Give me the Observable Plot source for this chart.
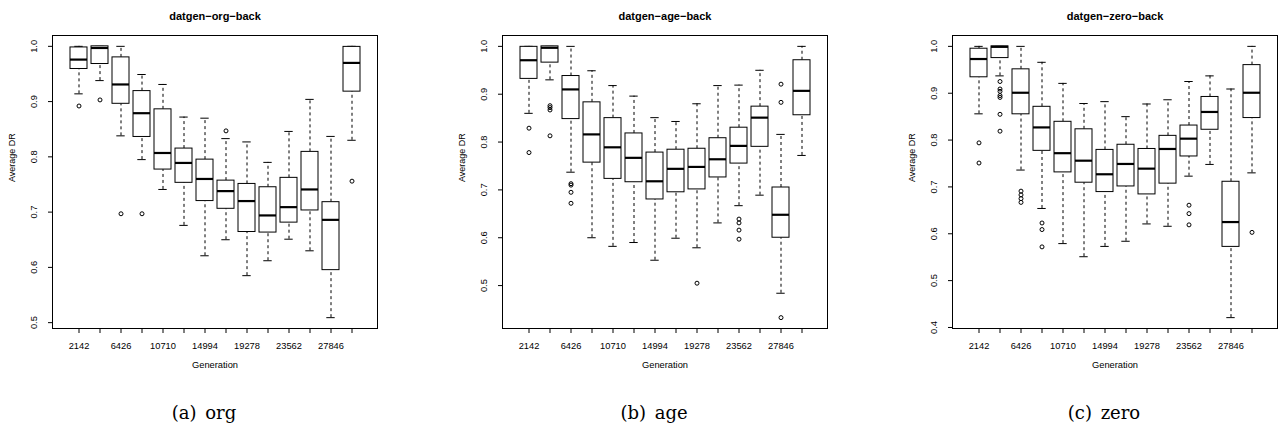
<!DOCTYPE html>
<html><head><meta charset="utf-8">
<script src="https://cdn.jsdelivr.net/npm/d3@7"></script>
<script src="https://cdn.jsdelivr.net/npm/@observablehq/plot@0.6"></script>
<style>
body{margin:0;background:#fff;width:1278px;height:428px;overflow:hidden;position:relative;font-family:"Liberation Sans",Arial,sans-serif;}
.panel{position:absolute;top:0;}
.cap{position:absolute;top:404px;width:200px;text-align:center;font-family:"DejaVu Serif",serif;font-size:18px;line-height:18px;word-spacing:3px;color:#000;white-space:nowrap;}
</style></head><body>
<script>
// Generations (box categories) and the tick labels R kept
const generations = [2142,4284,6426,8568,10710,12852,14994,17136,19278,21420,23562,25704,27846,29988];
const tickLabels = ["2142","","6426","","10710","","14994","","19278","","23562","","27846",""];

// (a) org
const orgLow  = [0.914,0.938,0.838,0.795,0.741,0.676,0.621,0.650,0.585,0.612,0.651,0.630,0.509,0.830];
const orgQ1   = [0.959,0.968,0.896,0.836,0.777,0.753,0.720,0.706,0.664,0.663,0.681,0.703,0.595,0.918];
const orgMed  = [0.976,0.997,0.931,0.879,0.807,0.789,0.760,0.738,0.720,0.694,0.709,0.741,0.686,0.970];
const orgQ3   = [0.998,1.000,0.980,0.919,0.886,0.815,0.795,0.757,0.751,0.745,0.762,0.809,0.718,0.999];
const orgHigh = [1.000,1.000,1.000,0.949,0.931,0.872,0.870,0.833,0.827,0.790,0.846,0.904,0.837,1.000];
const orgOutGen = [2142,4284,6426,8568,17136,29988];
const orgOutVal = [0.892,0.903,0.697,0.697,0.847,0.756];

// (b) age
const ageLow  = [0.860,0.930,0.737,0.600,0.582,0.590,0.553,0.599,0.579,0.631,0.667,0.689,0.484,0.772];
const ageQ1   = [0.932,0.966,0.848,0.757,0.723,0.716,0.680,0.695,0.701,0.726,0.755,0.790,0.600,0.856];
const ageMed  = [0.971,0.997,0.910,0.816,0.789,0.767,0.718,0.744,0.748,0.764,0.792,0.851,0.648,0.907];
const ageQ3   = [0.999,1.000,0.938,0.883,0.850,0.818,0.778,0.784,0.786,0.808,0.830,0.874,0.705,0.971];
const ageHigh = [1.000,1.000,1.000,0.949,0.918,0.896,0.851,0.843,0.880,0.918,0.919,0.950,0.816,1.000];
const ageOutGen = [2142,2142,4284,4284,4284,4284,6426,6426,6426,6426,19278,23562,23562,23562,23562,27846,27846,27846];
const ageOutVal = [0.829,0.778,0.876,0.872,0.867,0.813,0.713,0.710,0.695,0.672,0.505,0.639,0.631,0.616,0.597,0.921,0.883,0.433];

// (c) zero
const zeroLow  = [0.856,0.937,0.736,0.654,0.579,0.551,0.573,0.584,0.621,0.616,0.723,0.748,0.421,0.730];
const zeroQ1   = [0.934,0.975,0.855,0.777,0.731,0.709,0.689,0.701,0.684,0.707,0.765,0.822,0.572,0.847];
const zeroMed  = [0.973,0.999,0.901,0.827,0.772,0.756,0.727,0.749,0.739,0.781,0.803,0.860,0.625,0.901];
const zeroQ3   = [0.995,1.000,0.951,0.871,0.839,0.823,0.779,0.790,0.781,0.809,0.831,0.892,0.711,0.960];
const zeroHigh = [1.000,1.000,1.000,0.966,0.921,0.878,0.882,0.850,0.877,0.886,0.925,0.937,0.909,1.000];
const zeroOutGen = [2142,2142,4284,4284,4284,4284,4284,4284,4284,6426,6426,6426,6426,8568,8568,8568,23562,23562,23562,29988];
const zeroOutVal = [0.794,0.751,0.925,0.909,0.904,0.895,0.891,0.855,0.819,0.691,0.683,0.675,0.667,0.623,0.609,0.572,0.661,0.643,0.619,0.603];

const panels = [
  {title:"datgen\u2212org\u2212back", caption:"(a) org", low:orgLow, q1:orgQ1, med:orgMed, q3:orgQ3, high:orgHigh, outGen:orgOutGen, outVal:orgOutVal, yDomain:[0.4894,1.0196], yTicks:[0.5,0.6,0.7,0.8,0.9,1.0]},
  {title:"datgen\u2212age\u2212back", caption:"(b) age", low:ageLow, q1:ageQ1, med:ageMed, q3:ageQ3, high:ageHigh, outGen:ageOutGen, outVal:ageOutVal, yDomain:[0.4103,1.0227], yTicks:[0.5,0.6,0.7,0.8,0.9,1.0]},
  {title:"datgen\u2212zero\u2212back", caption:"(c) zero", low:zeroLow, q1:zeroQ1, med:zeroMed, q3:zeroQ3, high:zeroHigh, outGen:zeroOutGen, outVal:zeroOutVal, yDomain:[0.3978,1.0232], yTicks:[0.4,0.5,0.6,0.7,0.8,0.9,1.0]}
];

const W = 378, H = 376, ML = 52, MR = 1, MT = 35, MB = 48;
const fmt = d3.format(".1f");

panels.forEach((p, k) => {
  const rows = generations.map((g, i) => ({g, low:p.low[i], q1:p.q1[i], med:p.med[i], q3:p.q3[i], high:p.high[i]}));
  const outs = p.outGen.map((g, i) => ({g, v:p.outVal[i]}));
  const chart = Plot.plot({
    width: W, height: H,
    marginLeft: ML, marginRight: MR, marginTop: MT, marginBottom: MB,
    style: {fontFamily: '"Liberation Sans", Arial, sans-serif', fontSize: "9.3px", color: "#000", background: "#fff"},
    x: {type: "band", domain: generations, paddingInner: 0.2, paddingOuter: 0.66},
    y: {domain: p.yDomain},
    marks: [
      Plot.ruleX(rows, {x: "g", y1: "q3", y2: "high", stroke: "#000", strokeWidth: 1, strokeDasharray: "3,3"}),
      Plot.ruleX(rows, {x: "g", y1: "low", y2: "q1", stroke: "#000", strokeWidth: 1, strokeDasharray: "3,3"}),
      Plot.tickY(rows, {x: "g", y: "high", stroke: "#000", strokeWidth: 1, insetLeft: 4.3, insetRight: 4.3}),
      Plot.tickY(rows, {x: "g", y: "low", stroke: "#000", strokeWidth: 1, insetLeft: 4.3, insetRight: 4.3}),
      Plot.barY(rows, {x: "g", y1: "q1", y2: "q3", fill: "#fff", stroke: "#000", strokeWidth: 1}),
      Plot.tickY(rows, {x: "g", y: "med", stroke: "#000", strokeWidth: 2.2}),
      Plot.dot(outs, {x: "g", y: "v", r: 2, stroke: "#000", strokeWidth: 1, fill: "none"}),
      Plot.frame({stroke: "#000", strokeWidth: 1}),
      Plot.axisX({tickSize: 5, tickPadding: 9, label: null, tickFormat: d => tickLabels[generations.indexOf(d)]}),
      Plot.axisY({ticks: p.yTicks, tickSize: 4, tickPadding: 12, tickRotate: -90, tickFormat: fmt, label: null}),
      Plot.text([p.title], {text: d => d, frameAnchor: "top", dy: -23.5, fontWeight: "bold", fontSize: 11}),
      Plot.text(["Generation"], {text: d => d, frameAnchor: "bottom", dy: 39}),
      Plot.text(["Average DR"], {text: d => d, frameAnchor: "left", dx: -40, rotate: -90, fontSize: 9})
    ]
  });
  chart.classList.add("panel");
  chart.style.left = (450 * k) + "px";
  document.body.appendChild(chart);
  const cap = document.createElement("div");
  cap.className = "cap";
  cap.textContent = p.caption;
  cap.style.left = (450 * k + 204 - 100) + "px";
  document.body.appendChild(cap);
});
</script>
</body></html>
